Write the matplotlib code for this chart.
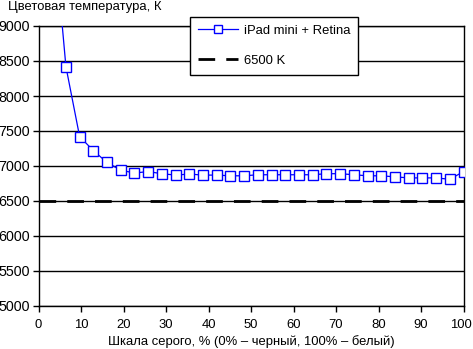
import numpy as np
import matplotlib
matplotlib.use("Agg")
import matplotlib.pyplot as plt
import matplotlib.transforms as mtransforms

# grey levels (32 steps, 0..100 %), first step dropped
gray = np.arange(1, 32) * 100.0 / 31
temp_k = [10600, 8420, 7420, 7220, 7050, 6940, 6900, 6920, 6890, 6870,
          6885, 6870, 6870, 6860, 6860, 6875, 6875, 6875, 6875, 6875,
          6890, 6890, 6875, 6860, 6860, 6845, 6830, 6830, 6830, 6810,
          6920]
ref_k = 6500
series_name = "iPad mini + Retina"
ref_name = "6500 K"

plt.rcParams['font.family'] = ['Liberation Sans', 'DejaVu Sans']
plt.rcParams['font.size'] = 9.4

fig = plt.figure(figsize=(4.73, 3.49), dpi=100)
ax = fig.add_axes([38.5/473, 1-306/349, 425/473, 280/349])

ax.plot(gray, temp_k, color='#0000ff', lw=0.9, marker='s', ms=6.5,
        mfc='white', mec='#0000ff', mew=1.0, label=series_name, zorder=3)
ax.axhline(ref_k, color='black', lw=2, dashes=(6, 4), label=ref_name, zorder=2)

ax.set_xlim(0, 100)
ax.set_ylim(5000, 9000)
ax.set_xticks(np.arange(0, 101, 10))
ax.set_yticks(np.arange(5000, 9001, 500))
ax.yaxis.grid(True, color='black', lw=1)
ax.set_axisbelow(True)
for s in ax.spines.values():
    s.set_linewidth(1)
ax.tick_params(direction='out', length=4, width=1, labelsize=10.3)
ax.tick_params(axis='x', pad=5, labelsize=9.4)
ax.tick_params(axis='y', pad=2)

# keep the "100" label inside the canvas
last = ax.get_xticklabels()[-1]
last.set_transform(last.get_transform() +
                   mtransforms.ScaledTranslation(-3/100, 0, fig.dpi_scale_trans))

ax.set_xlabel("Шкала серого, % (0% – черный, 100% – белый)", labelpad=3)
fig.text(8/473, 1-7/349, "Цветовая температура, К", va='center', ha='left')

leg = ax.legend(loc='upper left', bbox_to_anchor=((190-38.5)/425, 1+9/280),
                borderaxespad=0, frameon=True, fancybox=False, framealpha=1,
                edgecolor='black', borderpad=0.6, labelspacing=1.35,
                handlelength=3.1, handletextpad=0.4, markerscale=0.85)
leg.get_frame().set_linewidth(1)

fig.savefig("out.png", dpi=100)
